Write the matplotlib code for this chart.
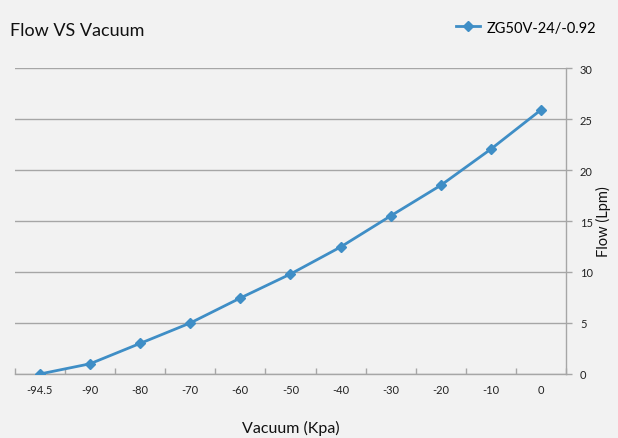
import numpy as np
import matplotlib.pyplot as plt
from matplotlib.ticker import FixedLocator, NullFormatter

# data
vacuum_labels = ['-94.5', '-90', '-80', '-70', '-60', '-50', '-40', '-30', '-20', '-10', '0']
flow_lpm = [0, 1.0, 3.0, 5.0, 7.45, 9.8, 12.45, 15.5, 18.5, 22.05, 25.9]
y_ticks = [0, 5, 10, 15, 20, 25, 30]
series_name = 'ZG50V-24/-0.92'

bg = '#f2f2f2'
line_color = '#3f8ec6'
grid_color = '#a6a6a6'

plt.rcParams['font.family'] = ['Lato', 'DejaVu Sans']

fig = plt.figure(figsize=(6.18, 4.39), dpi=100, facecolor=bg)
ax = fig.add_axes([0.024, 0.1458, 0.892, 0.697])
ax.set_facecolor(bg)

x = np.arange(len(vacuum_labels))
line, = ax.plot(x, flow_lpm, color=line_color, lw=2, marker='D', ms=5,
                mec=line_color, mfc=line_color, label=series_name, zorder=3)

ax.set_xlim(-0.5, len(vacuum_labels) - 0.5)
ax.set_ylim(0, 30)

# category axis: labels at centres, tick marks at boundaries
ax.set_xticks(x)
ax.set_xticklabels(vacuum_labels, fontsize=8, color='#222222')
ax.tick_params(axis='x', which='major', length=0, pad=7)
ax.xaxis.set_minor_locator(FixedLocator(np.arange(-0.5, len(vacuum_labels), 1.0)))
ax.xaxis.set_minor_formatter(NullFormatter())
ax.tick_params(axis='x', which='minor', direction='in', length=4, color=grid_color, width=1)

ax.yaxis.tick_right()
ax.set_yticks(y_ticks)
ax.set_yticklabels([str(v) for v in y_ticks], fontsize=8, color='#222222')
ax.tick_params(axis='y', direction='out', length=4, color=grid_color, width=1, pad=6)

ax.grid(axis='y', color=grid_color, lw=1)
ax.set_axisbelow(True)
for s in ['left', 'top']:
    ax.spines[s].set_visible(False)
for s in ['right', 'bottom']:
    ax.spines[s].set_color(grid_color)
    ax.spines[s].set_linewidth(1)

fig.text(291 / 618, 1 - 428 / 439, 'Vacuum (Kpa)', fontsize=11.5, ha='center', va='center',
         color='#111111')
fig.text(603 / 618, 1 - 222 / 439, 'Flow (Lpm)', fontsize=10.5, ha='center', va='center',
         rotation=90, color='#111111')

fig.text(0.016, 0.93, 'Flow VS Vacuum', fontsize=13, va='center', ha='left', color='#111111')
fig.legend(handles=[line], loc='center right', bbox_to_anchor=(0.975, 0.935),
           frameon=False, fontsize=10.5, handlelength=1.6, handletextpad=0.5,
           borderaxespad=0)

fig.savefig('out.png', dpi=100, facecolor=bg)
